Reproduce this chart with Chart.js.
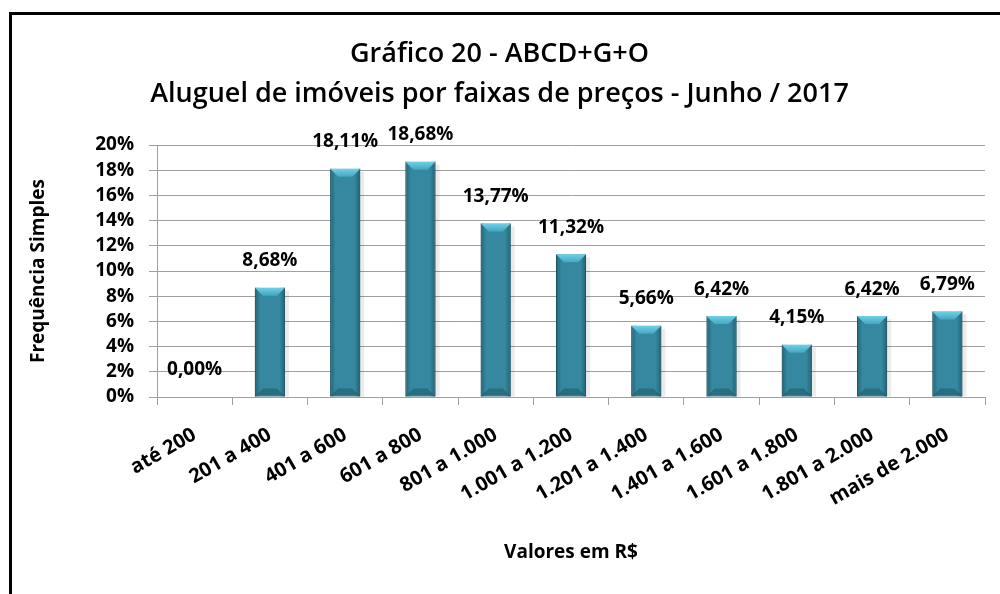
<!DOCTYPE html>
<html>
<head>
<meta charset="utf-8">
<script src="https://cdn.jsdelivr.net/npm/chart.js@4/dist/chart.umd.min.js"></script>
<style>
  html, body { margin: 0; padding: 0; background: #fff; }
  #wrap { width: 1000px; height: 594px; position: relative; }
</style>
</head>
<body>
<div id="wrap"><canvas id="grafico"></canvas></div>
<script>
// dados do grafico
const faixas = ['até 200', '201 a 400', '401 a 600', '601 a 800', '801 a 1.000', '1.001 a 1.200',
    '1.201 a 1.400', '1.401 a 1.600', '1.601 a 1.800', '1.801 a 2.000', 'mais de 2.000'];
const frequencias = [0.00, 8.68, 18.11, 18.68, 13.77, 11.32, 5.66, 6.42, 4.15, 6.42, 6.79];
const ticksY = [0, 2, 4, 6, 8, 10, 12, 14, 16, 18, 20];
const titulo = ['Gráfico 20 - ABCD+G+O', 'Aluguel de imóveis por faixas de preços - Junho / 2017'];

const fonte = "'Open Sans', 'Noto Sans', sans-serif";

function formatarPct(v){
    return v.toFixed(2).replace('.', ',') + '%';
}

// moldura preta
const moldura = {
    id: 'moldura',
    afterDraw(chart){
        const ctx = chart.ctx;
        ctx.save();
        ctx.fillStyle = '#000';
        ctx.fillRect(9, 12, chart.width - 9, 3);
        ctx.fillRect(9, 12, 3, chart.height - 12);
        ctx.restore();
    }
};

// bisel das barras e rotulos
const bisel = {
    id: 'bisel',
    afterDatasetsDraw(chart){
        const ctx = chart.ctx;
        const meta = chart.getDatasetMeta(0);
        ctx.save();
        meta.data.forEach((bar, i) => {
            const w = bar.width;
            const x0 = bar.x - w / 2, x1 = bar.x + w / 2;
            const top = bar.y, base = bar.base;
            const h = base - top;
            if (h > 1) {
                const b = Math.min(8, h / 2);
                // sombra a direita
                ctx.fillStyle = 'rgba(0,0,0,0.08)';
                ctx.fillRect(x1, top + 3, 4, h - 3);
                // laterais escuras
                const g = ctx.createLinearGradient(x0, 0, x1, 0);
                g.addColorStop(0, 'rgba(20,70,85,0.55)');
                g.addColorStop(0.18, 'rgba(20,70,85,0)');
                g.addColorStop(0.82, 'rgba(20,70,85,0)');
                g.addColorStop(1, 'rgba(20,70,85,0.6)');
                ctx.fillStyle = g;
                ctx.fillRect(x0, top, w, h);
                // topo claro
                const gt = ctx.createLinearGradient(0, top, 0, top + b);
                gt.addColorStop(0, '#6fd0e8');
                gt.addColorStop(1, '#45a6c0');
                ctx.beginPath();
                ctx.moveTo(x0, top);
                ctx.lineTo(x1, top);
                ctx.lineTo(x1 - b, top + b);
                ctx.lineTo(x0 + b, top + b);
                ctx.closePath();
                ctx.fillStyle = gt;
                ctx.fill();
                // base escura
                ctx.beginPath();
                ctx.moveTo(x0, base);
                ctx.lineTo(x1, base);
                ctx.lineTo(x1 - b, base - b);
                ctx.lineTo(x0 + b, base - b);
                ctx.closePath();
                ctx.fillStyle = 'rgba(25,80,95,0.45)';
                ctx.fill();
            }
            ctx.fillStyle = '#000';
            ctx.font = 'bold 19px ' + fonte;
            ctx.textAlign = 'center';
            ctx.textBaseline = 'middle';
            ctx.fillText(formatarPct(frequencias[i]), bar.x, top - 27);
        });
        ctx.restore();
    }
};

new Chart(document.getElementById('grafico'), {
    type: 'bar',
    data: {
        labels: faixas,
        datasets: [{
            label: 'Frequência Simples',
            data: frequencias,
            backgroundColor: '#35889f',
            borderColor: '#1f5f70',
            borderWidth: 1,
            borderSkipped: false,
            categoryPercentage: 1,
            barPercentage: 0.4
        }]
    },
    options: {
        responsive: true,
        maintainAspectRatio: false,
        animation: false,
        layout: { padding: { top: 14, left: 14, right: 15, bottom: 20 } },
        plugins: {
            legend: { display: false },
            tooltip: { enabled: false },
            title: {
                display: true,
                text: titulo,
                color: '#000',
                font: { family: fonte, size: 27, weight: '600', lineHeight: 1.5 },
                padding: { top: 20, bottom: 30 }
            }
        },
        scales: {
            x: {
                grid: { display: true, drawOnChartArea: false, offset: true, tickLength: 8, color: '#a0a0a0' },
                border: { color: '#a0a0a0' },
                ticks: {
                    color: '#000',
                    font: { family: fonte, size: 20, weight: 'bold' },
                    minRotation: 30,
                    maxRotation: 30,
                    padding: 18,
                    autoSkip: false
                },
                title: {
                    display: true,
                    text: 'Valores em R$',
                    color: '#000',
                    font: { family: fonte, size: 19, weight: 'bold', lineHeight: 1.2 },
                    padding: { top: 0, bottom: 10 }
                },
                afterFit(scale){ scale.height = 594 - 20 - 397; }
            },
            y: {
                min: 0,
                max: 20,
                grid: { color: '#a0a0a0', tickLength: 8 },
                border: { color: '#a0a0a0' },
                afterBuildTicks(scale){ scale.ticks = ticksY.map(v => ({ value: v })); },
                ticks: {
                    color: '#000',
                    font: { family: fonte, size: 19, weight: 'bold', lineHeight: 1 },
                    padding: 15,
                    autoSkip: false,
                    callback: v => v + '%'
                },
                title: {
                    display: true,
                    text: 'Frequência Simples',
                    color: '#000',
                    font: { family: fonte, size: 19, weight: 'bold', lineHeight: 1.2 },
                    padding: { top: 13, bottom: 0 }
                },
                afterFit(scale){ scale.width = 157 - 14; }
            }
        }
    },
    plugins: [moldura, bisel]
});
</script>
</body>
</html>
